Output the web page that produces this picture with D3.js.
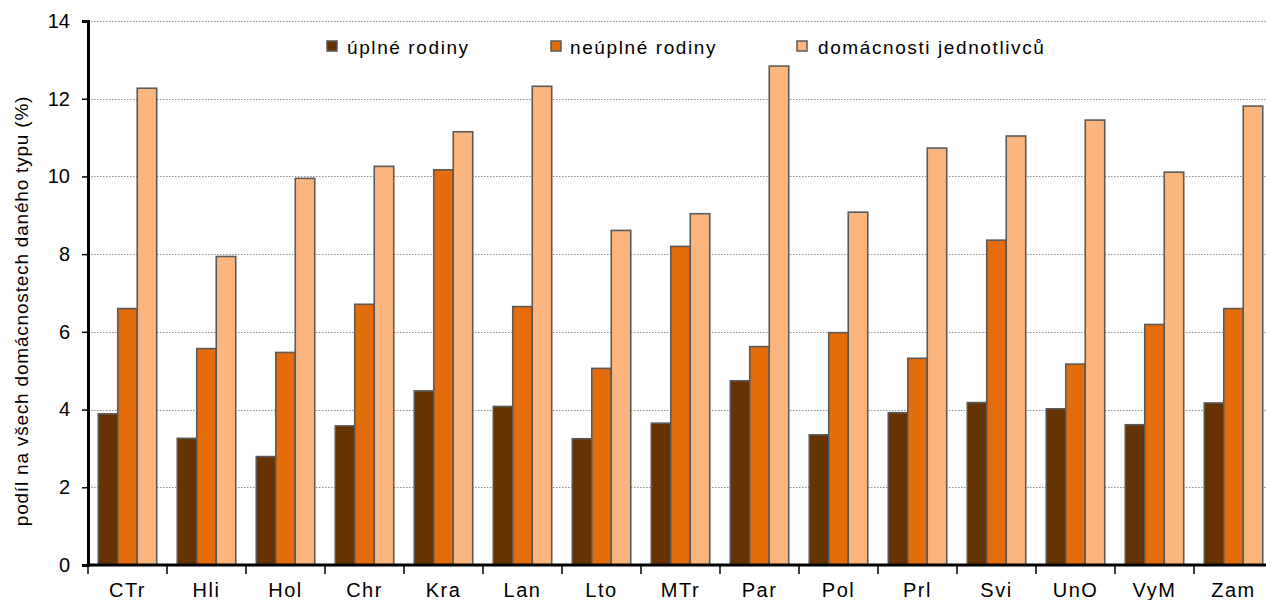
<!DOCTYPE html>
<html>
<head>
<meta charset="utf-8">
<script src="https://cdn.jsdelivr.net/npm/d3@7"></script>
<style>
  body { margin: 0; background: #fff; }
  svg { display: block; font-family: "Liberation Sans", Arial, sans-serif; }
</style>
</head>
<body>
<svg id="chart" width="1266" height="600"></svg>
<script>
// data
var categories = ["CTr", "Hli", "Hol", "Chr", "Kra", "Lan", "Lto", "MTr", "Par", "Pol", "Prl", "Svi", "UnO", "VyM", "Zam"];
var seriesNames = ["úplné rodiny", "neúplné rodiny", "domácnosti jednotlivců"];
var uplne = [3.89, 3.26, 2.79, 3.58, 4.48, 4.08, 3.25, 3.65, 4.74, 3.35, 3.92, 4.18, 4.02, 3.61, 4.17];
var neuplne = [6.60, 5.57, 5.47, 6.71, 10.17, 6.65, 5.06, 8.20, 5.62, 5.98, 5.32, 8.36, 5.17, 6.19, 6.60];
var jednotlivci = [12.27, 7.94, 9.95, 10.26, 11.15, 12.32, 8.61, 9.04, 12.84, 9.08, 10.73, 11.04, 11.45, 10.11, 11.81];
var yTicks = [0, 2, 4, 6, 8, 10, 12, 14];
var colors = ["#663300", "#E46C0A", "#FAB67E"];

var series = [uplne, neuplne, jednotlivci];

var svg = d3.select("#chart");
var margin = {left: 88, top: 21, bottom: 35};
var height = 600;
var plotRight = 1273;

var x = d3.scaleBand()
    .domain(categories)
    .range([margin.left, plotRight])
    .paddingInner(0.26)
    .paddingOuter(0.13);

var x1 = d3.scaleBand()
    .domain([0, 1, 2])
    .range([0, x.bandwidth()]);

var y = d3.scaleLinear()
    .domain([0, 14])
    .range([height - margin.bottom, margin.top]);

// gridlines
svg.append("g")
    .selectAll("line")
    .data(yTicks.filter(function(d) { return d > 0; }))
    .enter().append("line")
    .attr("x1", margin.left)
    .attr("x2", plotRight)
    .attr("y1", function(d) { return Math.round(y(d)) + 0.5; })
    .attr("y2", function(d) { return Math.round(y(d)) + 0.5; })
    .attr("stroke", "#8c8c8c")
    .attr("stroke-width", 1.2)
    .attr("stroke-dasharray", "1.5,1.5");

// bars
var groups = svg.append("g")
    .selectAll("g")
    .data(categories)
    .enter().append("g")
    .attr("transform", function(d) { return "translate(" + x(d) + ",0)"; });

groups.selectAll("rect")
    .data(function(d, i) { return series.map(function(s, k) { return {k: k, v: s[i]}; }); })
    .enter().append("rect")
    .attr("x", function(d) { return x1(d.k); })
    .attr("width", x1.bandwidth())
    .attr("y", function(d) { return y(d.v); })
    .attr("height", function(d) { return y(0) - y(d.v); })
    .attr("fill", function(d) { return colors[d.k]; })
    .attr("stroke", "#5a5a5a")
    .attr("stroke-width", 1.6);

// y axis
var yAxis = svg.append("g")
    .attr("transform", "translate(" + margin.left + ",0)")
    .call(d3.axisLeft(y).tickValues(yTicks).tickSize(6).tickPadding(12));
yAxis.select(".domain").attr("stroke", "#000").attr("stroke-width", 3);
yAxis.selectAll(".tick line").attr("stroke", "#000").attr("stroke-width", 1.5);
yAxis.selectAll("text").attr("font-size", 20).attr("fill", "#000")
    .attr("font-family", "'Liberation Sans', Arial, sans-serif");

// x axis
var xAxis = svg.append("g")
    .attr("transform", "translate(0," + y(0) + ")");
xAxis.append("line")
    .attr("x1", margin.left - 1.5)
    .attr("x2", plotRight)
    .attr("stroke", "#000")
    .attr("stroke-width", 3);
xAxis.selectAll("line.tk")
    .data(categories.concat(["end"]))
    .enter().append("line")
    .attr("class", "tk")
    .attr("x1", function(d, i) { return margin.left + i * x.step(); })
    .attr("x2", function(d, i) { return margin.left + i * x.step(); })
    .attr("y1", 0)
    .attr("y2", 9)
    .attr("stroke", "#000")
    .attr("stroke-width", 1.5);
xAxis.selectAll("text")
    .data(categories)
    .enter().append("text")
    .attr("x", function(d) { return x(d) + x.bandwidth() / 2; })
    .attr("y", 32)
    .attr("text-anchor", "middle")
    .attr("font-size", 20)
    .attr("letter-spacing", 1.5)
    .attr("fill", "#000")
    .text(function(d) { return d; });

// y title
svg.append("text")
    .attr("transform", "translate(28,311) rotate(-90)")
    .attr("text-anchor", "middle")
    .attr("font-size", 19)
    .attr("letter-spacing", 0.8)
    .attr("fill", "#000")
    .text("podíl na všech domácnostech daného typu (%)");

// legend
var legendX = [327, 551, 797];
var legend = svg.append("g")
    .selectAll("g")
    .data(seriesNames)
    .enter().append("g")
    .attr("transform", function(d, i) { return "translate(" + legendX[i] + ",41)"; });
legend.append("rect")
    .attr("width", 10)
    .attr("height", 10)
    .attr("fill", function(d, i) { return colors[i]; })
    .attr("stroke", "#5a5a5a")
    .attr("stroke-width", 1.5);
legend.append("text")
    .attr("x", function(d, i) { return i == 0 ? 20 : i == 1 ? 19 : 21; })
    .attr("y", 13)
    .attr("font-size", 19)
    .attr("letter-spacing", 1.6)
    .attr("fill", "#000")
    .text(function(d) { return d; });
</script>
</body>
</html>
